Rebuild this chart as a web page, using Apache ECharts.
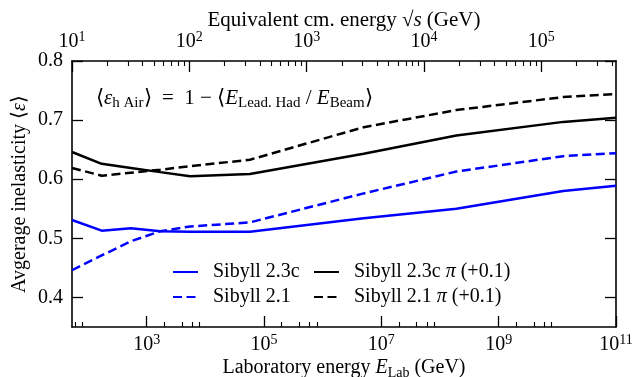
<!DOCTYPE html>
<html>
<head>
<meta charset="utf-8">
<script src="https://cdn.jsdelivr.net/npm/echarts@6/dist/echarts.min.js"></script>
<style>
  html, body { margin: 0; padding: 0; background: #fff; }
  #chart { width: 634px; height: 377px; }
</style>
</head>
<body>
<div id="chart"></div>
<script>
// Laboratory beam energies (GeV) at which the inelasticity was evaluated
const labEnergy = [53.3, 171, 537, 1700, 5500, 57500, 5.0e6, 1.9e8, 1.26e10, 1e11];

// Average inelasticity of proton-air interactions
const sibyll23c = [0.531, 0.513, 0.517, 0.512, 0.511, 0.511, 0.534, 0.550, 0.580, 0.589];
const sibyll21  = [0.446, 0.471, 0.495, 0.512, 0.520, 0.527, 0.576, 0.613, 0.639, 0.644];

// Average inelasticity of pion-air interactions (drawn shifted up by pionShift)
const sibyll23cPion = [0.546, 0.526, 0.519, 0.512, 0.505, 0.509, 0.543, 0.574, 0.597, 0.604];
const sibyll21Pion  = [0.519, 0.506, 0.511, 0.516, 0.522, 0.533, 0.588, 0.617, 0.639, 0.644];
const pionShift = 0.1;

// Axis settings
const protonMass = 0.938;                       // GeV, for sqrt(s) = sqrt(2 m E_lab)
const labMin = 100 / (2 * protonMass);          // sqrt(s) = 10 GeV
const labMax = 1e11;
const yTicks = [0.4, 0.5, 0.6, 0.7, 0.8];
const labDecadeLabels = [3, 5, 7, 9, 11];       // exponents labelled on the bottom axis
const cmDecadeLabels = [1, 2, 3, 4, 5];         // exponents labelled on the top axis

const FONT = 'Liberation Serif';
const FS = 20;
const log10 = Math.log10;

const xMin = log10(labMin), xMax = log10(labMax);
const toCm = (lx) => (lx + log10(2 * protonMass)) / 2;
const topMin = toCm(xMin), topMax = toCm(xMax);

// minor ticks: bottom axis at 2,4,6,8 x 10^odd, top axis at 2..9 x 10^k
const labMinor = [];
for (let k = 1; k <= 11; k += 2) {
  for (const s of [2, 4, 6, 8]) {
    const v = log10(s) + k;
    if (v > xMin && v < xMax) labMinor.push(v);
  }
}
const cmMinor = [];
for (let k = 1; k <= 5; k++) {
  for (let s = 2; s <= 9; s++) {
    const v = log10(s) + k;
    if (v > topMin && v < topMax) cmMinor.push(v);
  }
}

const pairs = (vals, shift) => labEnergy.map((e, i) => [log10(e), +(vals[i] + shift).toFixed(4)]);

const powerRich = {
  b: { fontFamily: FONT, fontSize: FS, color: '#000', lineHeight: 24 },
  s: { fontFamily: FONT, fontSize: 14, color: '#000', lineHeight: 14, verticalAlign: 'top' }
};
const powerLabel = (v) => '{b|10}{s|' + Math.round(v) + '}';

const frame = { show: true, onZero: false, lineStyle: { color: '#000', width: 1.6 } };
const majorTick = (vals) => ({ show: true, inside: true, length: 11, customValues: vals, lineStyle: { color: '#000', width: 1.3 } });
const minorTick = (vals) => ({ show: true, inside: true, length: 5, customValues: vals, lineStyle: { color: '#000', width: 1.1 } });

const mathRich = (size, subSize) => ({
  t: { fontFamily: FONT, fontSize: size, color: '#000', lineHeight: 24 },
  e: { fontFamily: FONT, fontSize: size, color: '#000', fontStyle: 'italic', lineHeight: 24 },
  sub: { fontFamily: FONT, fontSize: subSize, color: '#000', lineHeight: 16, verticalAlign: 'bottom' }
});
const nameRich = mathRich(FS, 14);

const chart = echarts.init(document.getElementById('chart'), null, { renderer: 'canvas' });

const lineSeries = (name, vals, shift, color, dashed) => ({
  name, type: 'line', xAxisIndex: 0, yAxisIndex: 0,
  data: pairs(vals, shift), symbol: 'none', showSymbol: false, clip: true,
  lineStyle: { color, width: 2.5, type: dashed ? [9, 4.5] : 'solid' },
  itemStyle: { color }
});

const legendText = {
  fontFamily: FONT, fontSize: FS, color: '#000', padding: [0, 0, 0, 10],
  rich: { p: { fontFamily: FONT, fontSize: FS, color: '#000', fontStyle: 'italic' } }
};
const legendFormat = (name) => name.replace('π', '{p|π}');
const legendBase = {
  orient: 'vertical', top: 257, itemWidth: 25, itemHeight: 12, itemGap: 5,
  textStyle: legendText, formatter: legendFormat, selectedMode: false,
  itemStyle: { opacity: 0 }
};

chart.setOption({
  animation: false,
  backgroundColor: '#fff',
  grid: { left: 72, right: 18, top: 61, bottom: 50, containLabel: false, outerBoundsMode: 'none' },
  xAxis: [
    {
      type: 'value', position: 'bottom', min: xMin, max: xMax,
      axisLine: frame, axisTick: majorTick(labDecadeLabels), splitLine: { show: false },
      axisLabel: { customValues: labDecadeLabels, margin: 6, formatter: powerLabel, rich: powerRich },
      name: '{t|Laboratory energy }{e|E}{sub|Lab}{t| (GeV)}', nameLocation: 'middle', nameGap: 29,
      nameMoveOverlap: false, nameTextStyle: { rich: nameRich }
    },
    {
      type: 'value', position: 'bottom', min: xMin, max: xMax,
      axisLine: { show: false }, axisTick: minorTick(labMinor),
      axisLabel: { show: false }, splitLine: { show: false }
    },
    {
      type: 'value', position: 'top', min: topMin, max: topMax,
      axisLine: frame, axisTick: majorTick(cmDecadeLabels), splitLine: { show: false },
      axisLabel: { customValues: cmDecadeLabels, margin: 7, formatter: powerLabel, rich: powerRich },
      name: '{t|Equivalent cm. energy √}{e|s}{t| (GeV)}', nameLocation: 'middle', nameGap: 29,
      nameMoveOverlap: false, nameTextStyle: { rich: mathRich(21, 15) }
    },
    {
      type: 'value', position: 'top', min: topMin, max: topMax,
      axisLine: { show: false }, axisTick: minorTick(cmMinor),
      axisLabel: { show: false }, splitLine: { show: false }
    }
  ],
  yAxis: [
    {
      type: 'value', position: 'left', min: 0.35, max: 0.8,
      axisLine: frame, axisTick: majorTick(yTicks), splitLine: { show: false },
      axisLabel: { customValues: yTicks, margin: 9, fontFamily: FONT, fontSize: FS, color: '#000',
                   formatter: (v) => v.toFixed(1) },
      name: '{t|Avgerage inelasticity ⟨}{e|ε}{t|⟩}', nameLocation: 'middle', nameGap: 40,
      nameMoveOverlap: false, nameRotate: 90, nameTextStyle: { rich: nameRich }
    },
    {
      type: 'value', position: 'right', min: 0.35, max: 0.8,
      axisLine: frame, axisTick: majorTick(yTicks), splitLine: { show: false },
      axisLabel: { show: false }
    }
  ],
  legend: [
    Object.assign({ data: ['Sibyll 2.3c', 'Sibyll 2.1'], left: 167 }, legendBase),
    Object.assign({ data: ['Sibyll 2.3c π (+0.1)', 'Sibyll 2.1 π (+0.1)'], left: 308 }, legendBase)
  ],
  graphic: [
    {
      type: 'text', left: 96, top: 88, silent: true,
      style: {
        text: '{t|⟨}{e|ε}{sub|h Air}{t|⟩  =  1 − ⟨}{e|E}{sub|Lead. Had}{t| / }{e|E}{sub|Beam}{t|⟩}',
        rich: mathRich(21, 15)
      }
    }
  ],
  series: [
    lineSeries('Sibyll 2.3c', sibyll23c, 0, '#0000ff', false),
    lineSeries('Sibyll 2.1', sibyll21, 0, '#0000ff', true),
    lineSeries('Sibyll 2.3c π (+0.1)', sibyll23cPion, pionShift, '#000000', false),
    lineSeries('Sibyll 2.1 π (+0.1)', sibyll21Pion, pionShift, '#000000', true)
  ]
});
</script>
</body>
</html>
